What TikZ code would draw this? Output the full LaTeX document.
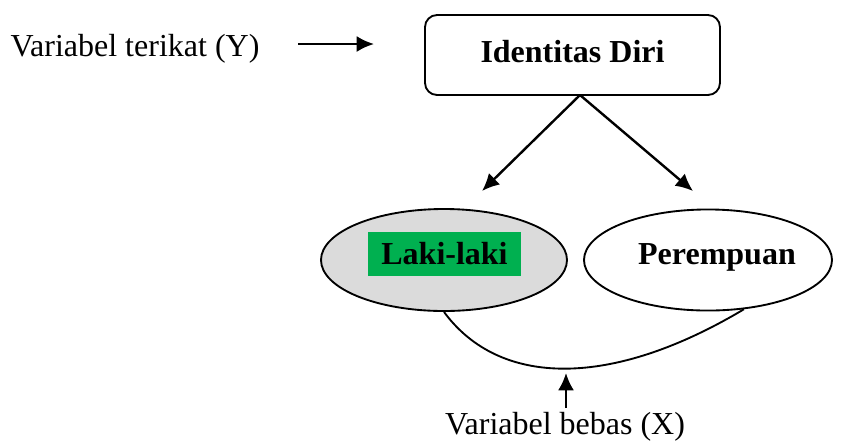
\documentclass[tikz,border=0pt]{standalone}
\usepackage{fontspec}
\setmainfont{Liberation Serif}
\usetikzlibrary{positioning}
\usetikzlibrary{shapes.geometric}
\usetikzlibrary{arrows.meta}

\begin{document}
\begin{tikzpicture}[x=0.375pt, y=-0.375pt,
  arr/.style={line width=0.9pt, -{Latex[length=6.5pt,width=6pt]}},
  oval/.style={draw, ellipse, line width=0.7pt, inner sep=0pt},
  lbl/.style={font=\fontsize{12}{14}\selectfont, anchor=base, inner sep=0pt},
  blbl/.style={lbl, font=\fontsize{12}{14}\selectfont\bfseries}]
% Set the size of the figure
\useasboundingbox (0,0) rectangle (841,441);

% Dependent variable
\node[draw, rounded corners=4.5pt, line width=0.7pt, minimum width=110.6pt,
  minimum height=30pt] (diri) at (572.5,55) {};
\node[blbl] (diritext) at (572.5,62) {Identitas Diri};
\node[lbl] (ytext) at (135,56) {Variabel terikat (Y)};
\coordinate (yfrom) at (298,44);
\coordinate (yto) at (374,44);
\draw[arr] (yfrom) -- (yto);

% Independent variable
\node[oval, fill=black!14, minimum width=92.25pt, minimum height=38.25pt] (laki) at (444,260) {};
\node[oval, fill=white, minimum width=93pt, minimum height=37.9pt] (perempuan) at (708,260) {};
\node[fill={rgb,255:red,0;green,176;blue,80}, inner sep=0pt, minimum width=57.4pt,
  minimum height=16.5pt] (lakibox) at (444.5,254) {};
\node[blbl] (lakitext) at (444.5,264) {Laki-laki};
\node[blbl] (perempuantext) at (717,264) {Perempuan};

% Arrows from the box
\coordinate (split) at (580,95);
\coordinate (lakitip) at (482,191);
\coordinate (perempuantip) at (693,191);
\draw[arr] (split) -- (lakitip);
\draw[arr] (split) -- (perempuantip);

% Bracket under the ovals
\draw[line width=0.7pt] (laki.south) .. controls (500,388) and (612,388) .. (perempuan.-54);
\node[lbl] (xtext) at (565,434) {Variabel bebas (X)};
\coordinate (xfrom) at (566,408);
\coordinate (xto) at (566,373);
\draw[arr] (xfrom) -- (xto);
\end{tikzpicture}
\end{document}
